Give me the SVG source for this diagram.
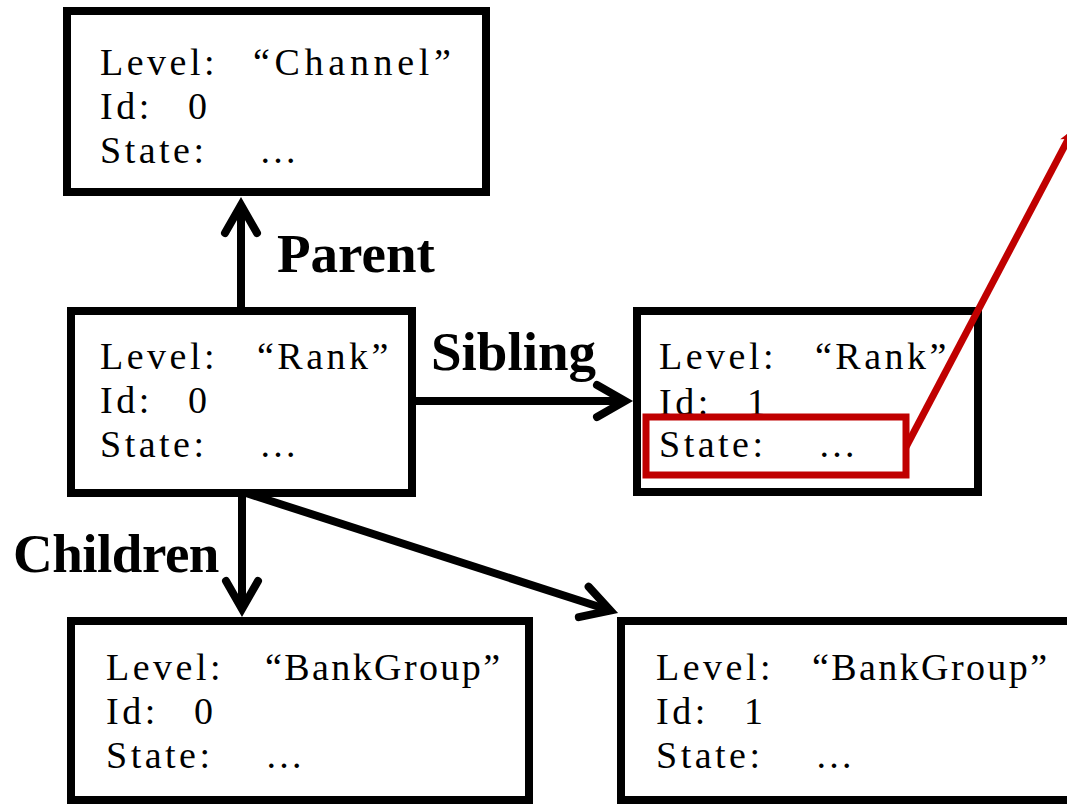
<svg xmlns="http://www.w3.org/2000/svg" width="1067" height="804" viewBox="0 0 1067 804">
  <style>
    .box { fill: #fff; stroke: #000; stroke-width: 8; }
    .field { font-family: "Liberation Serif", "Times New Roman", serif; font-size: 38px; letter-spacing: 3.5px; fill: #000; }
    .wide { letter-spacing: 4.7px; }
    .tight { letter-spacing: 2.4px; }
    .label { font-family: "Liberation Serif", "Times New Roman", serif; font-size: 55px; font-weight: bold; fill: #000; }
    .link { stroke: #000; stroke-width: 8; fill: none; marker-end: url(#chev); }
    .callout { stroke: #C00000; stroke-width: 7; fill: none; }
    .callout-box { stroke: #C00000; stroke-width: 7; fill: #fff; }
  </style>
  <defs>
    <!-- open chevron head; tip sits 8px ahead of the line end -->
    <marker id="chev" markerUnits="userSpaceOnUse" markerWidth="80" markerHeight="80" viewBox="-40 -40 80 80" refX="0" refY="0" orient="auto">
      <path d="M-28,-16 L0,0 L-28,16" fill="none" stroke="#000" stroke-width="8" stroke-linecap="round" stroke-linejoin="miter"/>
    </marker>
    <marker id="redhead" markerUnits="userSpaceOnUse" markerWidth="40" markerHeight="40" viewBox="-20 -20 40 40" refX="0" refY="0" orient="auto">
      <path d="M4,0 L-12,-7 L-8,0 L-12,7 Z" fill="#C00000"/>
    </marker>
  </defs>

  <!-- connectors -->
  <g id="connectors">
    <line class="link" x1="241" y1="311" x2="241" y2="205"/>
    <line class="link" x1="412" y1="401" x2="625" y2="401"/>
    <line class="link" x1="242" y1="493" x2="242" y2="609"/>
    <line class="link" x1="246" y1="493" x2="610.4" y2="610.5"/>
    <text class="label" x="277" y="272">Parent</text>
    <text class="label" x="431" y="370">Sibling</text>
    <text class="label" x="13" y="572" letter-spacing="-0.5">Children</text>
  </g>

  <!-- channel node -->
  <g id="channel0">
    <rect class="box" x="67" y="11" width="419" height="181"/>
    <text class="field" y="75"><tspan x="100">Level:</tspan><tspan class="wide" x="253">“Channel”</tspan></text>
    <text class="field" y="119"><tspan x="100">Id:</tspan><tspan x="188">0</tspan></text>
    <text class="field" y="163"><tspan x="100">State:</tspan><tspan x="259">…</tspan></text>
  </g>

  <!-- rank nodes -->
  <g id="rank0">
    <rect class="box" x="71" y="311" width="341" height="182"/>
    <text class="field" y="369"><tspan x="100">Level:</tspan><tspan x="257">“Rank”</tspan></text>
    <text class="field" y="413"><tspan x="100">Id:</tspan><tspan x="188">0</tspan></text>
    <text class="field" y="457"><tspan x="100">State:</tspan><tspan x="259">…</tspan></text>
  </g>
  <g id="rank1">
    <rect class="box" x="637" y="311" width="341" height="181"/>
    <text class="field" y="369"><tspan x="659">Level:</tspan><tspan x="815">“Rank”</tspan></text>
    <text class="field" y="415"><tspan x="659">Id:</tspan><tspan x="747">1</tspan></text>
    <!-- highlighted state field -->
    <rect id="state-highlight" class="callout-box" x="646" y="417" width="260" height="58"/>
    <text class="field" y="457"><tspan x="659">State:</tspan><tspan x="818">…</tspan></text>
  </g>

  <!-- bank group nodes -->
  <g id="bankgroup0">
    <rect class="box" x="71" y="621" width="458" height="179"/>
    <text class="field" y="680"><tspan x="106">Level:</tspan><tspan class="tight" x="265">“BankGroup”</tspan></text>
    <text class="field" y="724"><tspan x="106">Id:</tspan><tspan x="194">0</tspan></text>
    <text class="field" y="768"><tspan x="106">State:</tspan><tspan x="265">…</tspan></text>
  </g>
  <g id="bankgroup1">
    <rect class="box" x="621" y="621" width="470" height="179"/>
    <text class="field" y="680"><tspan x="656">Level:</tspan><tspan class="tight" x="812">“BankGroup”</tspan></text>
    <text class="field" y="724"><tspan x="656">Id:</tspan><tspan x="744">1</tspan></text>
    <text class="field" y="768"><tspan x="656">State:</tspan><tspan x="815">…</tspan></text>
  </g>

  <!-- leader from the highlighted field -->
  <g id="state-leader">
    <line class="callout" x1="906" y1="447" x2="1072" y2="132" marker-end="url(#redhead)"/>
  </g>
</svg>
